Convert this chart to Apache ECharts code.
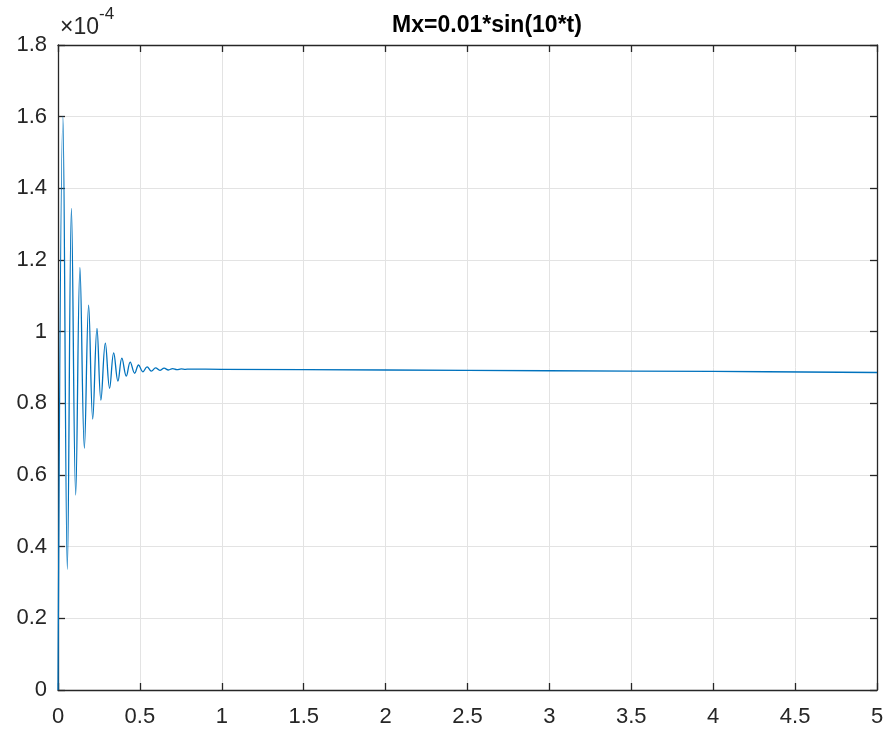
<!DOCTYPE html>
<html>
<head>
<meta charset="utf-8">
<script src="https://cdn.jsdelivr.net/npm/echarts@6/dist/echarts.min.js"></script>
<style>
  html, body { margin: 0; padding: 0; background: #fff; }
  #main { width: 890px; height: 733px; }
</style>
</head>
<body>
<div id="main"></div>
<script>
// time (s) at the turning points
var tVals = [0, 0.030, 0.057, 0.082, 0.108, 0.134, 0.161, 0.187, 0.212, 0.238, 0.262,
    0.289, 0.315, 0.340, 0.366, 0.390, 0.417, 0.441, 0.468, 0.492, 0.518,
    0.544, 0.570, 0.596, 0.622, 0.648, 0.674, 0.700, 0.726, 0.752, 0.778,
    0.80, 1.0, 2.0, 3.0, 4.0, 5.0];
// Mx response, in units of 1e-4
var mxVals = [0, 1.60, 0.337, 1.344, 0.544, 1.179, 0.675, 1.074, 0.756, 1.009, 0.809,
    0.968, 0.842, 0.941, 0.862, 0.926, 0.876, 0.915, 0.884, 0.907, 0.888,
    0.902, 0.890, 0.899, 0.892, 0.898, 0.893, 0.897, 0.894, 0.896, 0.895,
    0.8955, 0.895, 0.893, 0.891, 0.889, 0.886];

var xTicks = { min: 0, max: 5, step: 0.5 };
var yTicks = { min: 0, max: 1.8, step: 0.2 };

var points = [];
for (var i = 0; i < tVals.length; i++) {
    points.push([tVals[i], mxVals[i]]);
}

var txt = '#262626';
var gridCol = '#e3e3e3';
var font = 'Liberation Sans, Arial, sans-serif';

var chart = echarts.init(document.getElementById('main'));

var boxAxisX = function (pos, labels) {
    return {
        type: 'value', position: pos,
        min: xTicks.min, max: xTicks.max, interval: xTicks.step,
        axisLine: { show: true, onZero: false, lineStyle: { color: txt, width: 1.3 } },
        axisTick: { show: true, inside: true, length: 7, lineStyle: { color: txt, width: 1.3 } },
        axisLabel: { show: labels, color: txt, fontSize: 22, fontFamily: font, margin: 16 },
        splitLine: { show: labels, lineStyle: { color: gridCol, width: 1 } }
    };
};
var boxAxisY = function (pos, labels) {
    return {
        type: 'value', position: pos,
        min: yTicks.min, max: yTicks.max, interval: yTicks.step,
        axisLine: { show: true, onZero: false, lineStyle: { color: txt, width: 1.3 } },
        axisTick: { show: true, inside: true, length: 7, lineStyle: { color: txt, width: 1.3 } },
        axisLabel: { show: labels, color: txt, fontSize: 22, fontFamily: font, margin: 11 },
        splitLine: { show: labels, lineStyle: { color: gridCol, width: 1 } }
    };
};

chart.setOption({
    backgroundColor: '#ffffff',
    animation: false,
    title: {
        text: 'Mx=0.01*sin(10*t)',
        left: 482, top: 9, textAlign: 'center',
        textStyle: { color: '#000', fontSize: 23, fontWeight: 'bold', fontFamily: font }
    },
    grid: { left: 58, right: 13, top: 45, bottom: 43, containLabel: false },
    xAxis: [boxAxisX('bottom', true), boxAxisX('top', false)],
    yAxis: [boxAxisY('left', true), boxAxisY('right', false)],
    graphic: [{
        type: 'text', left: 60, top: 6,
        style: {
            text: '{a|\u00d710}{b|-4}',
            rich: {
                a: { fontSize: 23, fontFamily: font, fill: txt, padding: [10, 0, 0, 0] },
                b: { fontSize: 17, fontFamily: font, fill: txt, verticalAlign: 'top' }
            }
        }
    }],
    series: [{
        type: 'line',
        data: points,
        xAxisIndex: 0, yAxisIndex: 0,
        showSymbol: false,
        smooth: 0.4,
        lineStyle: { color: '#0072BD', width: 1.3 }
    }]
});
</script>
</body>
</html>
